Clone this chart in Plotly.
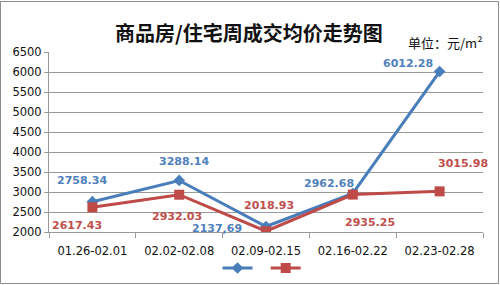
import plotly.graph_objects as go

categories = ["01.26-02.01", "02.02-02.08", "02.09-02.15", "02.16-02.22", "02.23-02.28"]
commercial = [2758.34, 3288.14, 2137.69, 2962.68, 6012.28]
residential = [2617.43, 2932.03, 2018.93, 2935.25, 3015.98]
commercial_labels = ["2758.34", "3288.14", "2137,69", "2962.68", "6012.28"]
residential_labels = ["2617.43", "2932.03", "2018.93", "2935.25", "3015.98"]
y_ticks = [2000, 2500, 3000, 3500, 4000, 4500, 5000, 5500, 6000, 6500]

BLUE = "#4a7ebb"
RED = "#be4b48"
LBLUE = "#4f81bd"
LRED = "#c0504d"
GRID = "#9a9a9a"

fig = go.Figure()
fig.add_trace(go.Scatter(x=categories, y=commercial, mode="lines+markers", name=" ",
                         line=dict(color=BLUE, width=3),
                         marker=dict(symbol="diamond", size=9, color=BLUE)))
fig.add_trace(go.Scatter(x=categories, y=residential, mode="lines+markers", name=" ",
                         line=dict(color=RED, width=3),
                         marker=dict(symbol="square", size=10, color=RED)))

c_shift = [(-10, 21), (5, 19), (-49, -2), (-24, 10), (-32, 8)]
r_shift = [(-15, -18), (-2, -22), (3, 26), (17, -28), (23, 28)]
lab_font = "DejaVu Sans"
for i, c in enumerate(categories):
    fig.add_annotation(x=c, y=commercial[i], text="<b>" + commercial_labels[i] + "</b>",
                       showarrow=False, xshift=c_shift[i][0], yshift=c_shift[i][1],
                       font=dict(family=lab_font, size=11, color=LBLUE))
    fig.add_annotation(x=c, y=residential[i], text="<b>" + residential_labels[i] + "</b>",
                       showarrow=False, xshift=r_shift[i][0], yshift=r_shift[i][1],
                       font=dict(family=lab_font, size=11, color=LRED))

fig.add_annotation(xref="paper", yref="paper", x=(249 - 49) / 434, y=1 + 19 / 180,
                   yanchor="middle", xanchor="center",
                   text="<b>商品房/住宅周成交均价走势图</b>", showarrow=False,
                   font=dict(family="Noto Sans CJK SC", size=20, color="#111"))
fig.add_annotation(xref="paper", yref="paper", x=1 + 1 / 434, y=1 + 10 / 180,
                   xanchor="right", yanchor="middle",
                   text="单位：元/m²", showarrow=False,
                   font=dict(family="Noto Sans CJK SC", size=13, color="#111"))

# outer frame
fig.add_shape(type="rect", xref="paper", yref="paper",
              x0=-48.5 / 434, x1=1 + 15.5 / 434, y0=-51.5 / 180, y1=1 + 50.5 / 180,
              line=dict(color="#8c8c8c", width=1), fillcolor="rgba(0,0,0,0)")

fig.update_layout(
    width=500, height=285,
    margin=dict(l=49, r=17, t=52, b=53, autoexpand=False),
    paper_bgcolor="white", plot_bgcolor="white",
    showlegend=True,
    legend=dict(orientation="h", x=0.5, xanchor="center", y=-36 / 180, yanchor="middle",
                font=dict(size=10), itemwidth=30, bgcolor="rgba(0,0,0,0)"),
    font=dict(family="DejaVu Sans", color="#111"),
)
fig.update_xaxes(type="category", showgrid=False, showline=True, linecolor=GRID,
                 ticks="outside", tickson="boundaries", ticklen=5, tickcolor=GRID,
                 tickfont=dict(size=11.5, color="#111"), range=[-0.5, 4.5],
                 ticklabelstandoff=8)
fig.update_yaxes(range=[2000, 6500], tickvals=y_ticks, showgrid=True, gridcolor=GRID,
                 gridwidth=1, showline=True, linecolor=GRID, ticks="outside",
                 ticklen=4, tickcolor=GRID, tickfont=dict(size=11.5, color="#111"),
                 zeroline=False)

fig.write_html("out.html")
